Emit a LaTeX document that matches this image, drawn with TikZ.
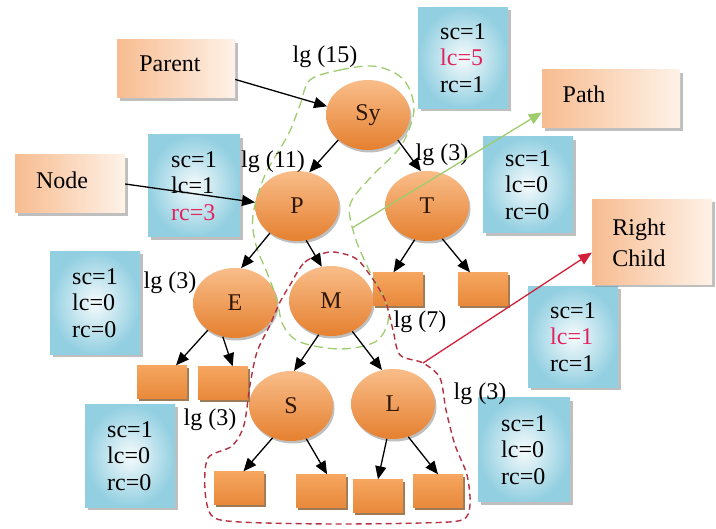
\documentclass[tikz,border=0pt]{standalone}
\usepackage{fontspec}
\setmainfont{Liberation Serif}
\usepackage{tikz}
\usetikzlibrary{arrows.meta}
\usetikzlibrary{positioning}
\usetikzlibrary{shapes,shadows}
\usepackage{xcolor}
\definecolor{ballhi}{HTML}{F9BD8A}
\definecolor{balllo}{HTML}{E5802F}
\definecolor{leafhi}{HTML}{F6A660}
\definecolor{leaflo}{HTML}{E8893B}
\definecolor{tagpeach}{HTML}{F7BC90}
\definecolor{tagwhite}{HTML}{FEF2E8}
\definecolor{infoedge}{HTML}{92CFE1}
\definecolor{infomid}{HTML}{F6FBFC}
\definecolor{pathgreen}{HTML}{9FCC6E}
\definecolor{zonered}{HTML}{B23040}
\definecolor{childred}{HTML}{D3203A}
\definecolor{countred}{HTML}{E0245E}
\definecolor{inkbrown}{HTML}{2E1606}
\tikzset{
    every node/.style={font=\fontsize{24}{26.5}\selectfont},
    ball/.style={
        ellipse,
        top color=ballhi,
        bottom color=balllo,
        minimum width=84pt,
        minimum height=70pt,
        inner sep=0pt,
        text=inkbrown,
        drop shadow={shadow xshift=1.5pt, shadow yshift=-2.5pt, fill=black, opacity=.25}
    },
    leaf/.style={
        rectangle,
        top color=leafhi,
        bottom color=leaflo,
        minimum width=50pt,
        minimum height=33pt,
        drop shadow={shadow xshift=2pt, shadow yshift=-3pt, fill=brown!70!black, opacity=.8}
    },
    tagbox/.style={
        rectangle,
        left color=tagpeach,
        right color=tagwhite,
        drop shadow={shadow xshift=3pt, shadow yshift=-3pt, fill=gray, opacity=.5}
    },
    infobox/.style={
        rectangle,
        shading=radial,
        inner color=infomid,
        outer color=infoedge,
        minimum width=90pt,
        minimum height=101pt,
        align=left,
        drop shadow={shadow xshift=3pt, shadow yshift=-3pt, fill=gray, opacity=.5}
    },
    link/.style={
        draw,
        -{Triangle[length=13pt, width=11pt]},
        line width=1.3pt
    }
}

\begin{document}
\begin{tikzpicture}[x=1pt, y=-1pt]
    \useasboundingbox (0,0) rectangle (716,529);

    % counters
    \node[infobox] (infoSy) at (463,58) {sc=1\\\textcolor{countred}{lc=5}\\rc=1};
    \node[infobox, minimum width=92pt, minimum height=102pt] (infoP) at (194,186) {sc=1\\lc=1\\\textcolor{countred}{rc=3}};
    \node[infobox, minimum height=96pt] (infoT) at (528,185) {sc=1\\lc=0\\rc=0};
    \node[infobox, minimum height=103pt] (infoE) at (95,303) {sc=1\\lc=0\\rc=0};
    \node[infobox, minimum height=103pt] (infoS) at (130,456) {sc=1\\lc=0\\rc=0};
    \node[infobox] (infoM) at (573,337) {sc=1\\\textcolor{countred}{lc=1}\\rc=1};
    \node[infobox, minimum width=92pt, minimum height=104pt] (infoL) at (524,450) {sc=1\\lc=0\\rc=0};

    % callouts
    \node[tagbox, minimum width=118pt, minimum height=58pt] (parentbox) at (176,69) {};
    \node (parenttxt) at (170,64) {Parent};
    \node[tagbox, minimum width=110pt, minimum height=58pt] (nodebox) at (70,184) {};
    \node (nodetxt) at (62,180) {Node};
    \node[tagbox, minimum width=138pt, minimum height=58pt] (pathbox) at (611,99) {};
    \node (pathtxt) at (584,94) {Path};
    \node[tagbox, minimum width=120pt, minimum height=85pt] (rcbox) at (652,242) {};
    \node[align=left, font=\fontsize{24}{31}\selectfont] (rctxt) at (639,243) {Right\\Child};

    % tree
    \node[ball] (Sy) at (368,115) {Sy};
    \node[ball] (P) at (297,206) {P};
    \node[ball] (T) at (427,206) {T};
    \node[ball] (E) at (235,303) {E};
    \node[ball] (M) at (331,301) {M};
    \node[ball] (S) at (291,406) {S};
    \node[ball] (L) at (393,404) {L};

    \node[leaf] (t1) at (398,289) {};
    \node[leaf] (t2) at (483,289) {};
    \node[leaf] (e1) at (162,382) {};
    \node[leaf] (e2) at (223,383) {};
    \node[leaf] (s1) at (239,488) {};
    \node[leaf] (s2) at (321,491) {};
    \node[leaf] (l1) at (378,496) {};
    \node[leaf] (l2) at (438,491) {};

    % dashed zones
    \draw[pathgreen, line width=1.3pt, dash pattern=on 9pt off 5pt]
        plot[smooth cycle, tension=0.55] coordinates {(310,80) (340,70) (372,66) (395,73) (408,86) (414,107) (410,127) (398,150) (370,178) (350,205) (355,237) (370,272) (385,300) (388,322) (375,342) (340,349) (300,342) (283,325) (277,300) (268,275) (256,245) (253,215) (265,175) (288,135) (300,105)};
    \draw[zonered, line width=1.4pt, dash pattern=on 6pt off 4pt]
        plot[smooth cycle, tension=0.5] coordinates {(290,285) (305,262) (330,252) (355,258) (370,275) (385,300) (393,330) (400,355) (423,363) (440,378) (446,410) (455,445) (467,475) (470,505) (462,520) (420,523) (330,524) (240,522) (212,516) (205,490) (208,458) (232,446) (244,425) (250,385) (257,352) (270,325) (280,302)};
    \coordinate (pathtail) at (352,228);
    \coordinate (rctail) at (423,363);

    % weights
    \node (lgSy) at (325,57) {lg (15)};
    \node (lgP) at (273,162) {lg (11)};
    \node (lgT) at (442,155) {lg (3)};
    \node (lgE) at (170,283) {lg (3)};
    \node (lgM) at (420,322) {lg (7)};
    \node (lgS) at (210,420) {lg (3)};
    \node (lgL) at (480,394) {lg (3)};

    \draw[link] (Sy.220) -- (P.70);
    \draw[link] (Sy.-40) -- (T.100);
    \draw[link] (P.225) -- (E.80);
    \draw[link] (P.-75) -- (M.105);
    \draw[link] (T.-110) -- (t1.105);
    \draw[link] (T.-65) -- (t2.128);
    \draw[link] (E.-135) -- (e1.50);
    \draw[link] (E.-110) -- (e2.60);
    \draw[link] (M.-110) -- (S.85);
    \draw[link] (M.-55) -- (L.108);
    \draw[link] (S.-120) -- (s1.75);
    \draw[link] (S.-65) -- (s2.70);
    \draw[link] (L.-100) -- (l1.north);
    \draw[link] (L.-65) -- (l2.north);

    \draw[link] (parentbox.-10) -- (Sy.168);
    \draw[link] (nodebox.east) -- (P.175);
    \draw[link, pathgreen] (pathtail) -- (pathbox.191);
    \draw[link, childred] (rctail) -- (rcbox.190);
\end{tikzpicture}
\end{document}
